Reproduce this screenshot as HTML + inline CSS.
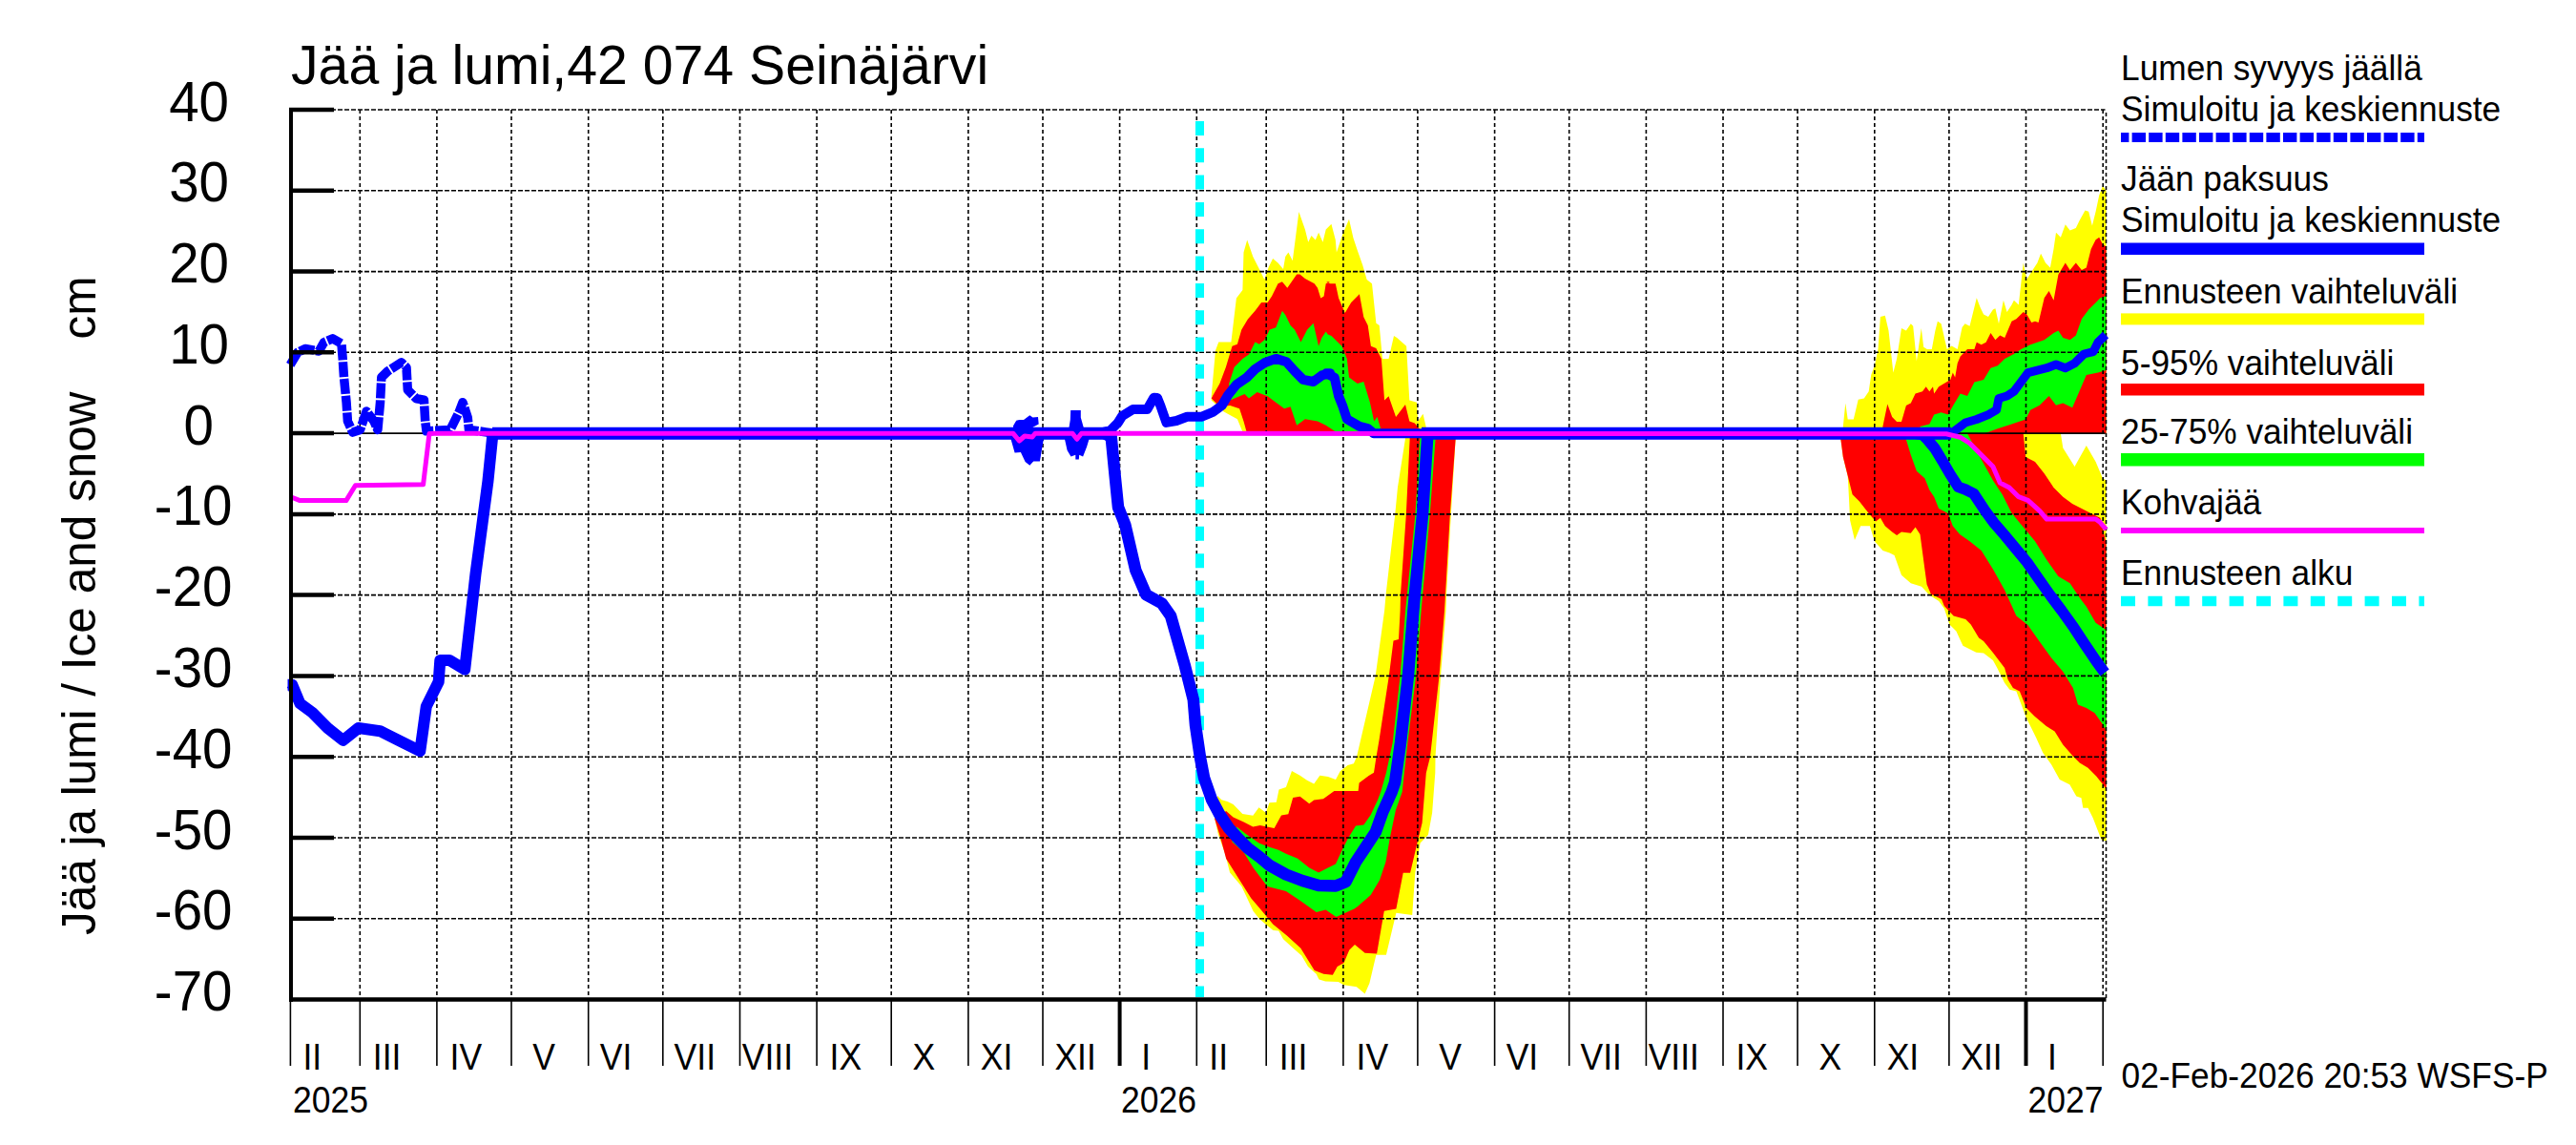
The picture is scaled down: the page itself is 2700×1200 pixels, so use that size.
<!DOCTYPE html><html><head><meta charset="utf-8"><style>html,body{margin:0;padding:0;background:#fff;width:2700px;height:1200px;overflow:hidden}</style></head><body><svg width="2700" height="1200" viewBox="0 0 2700 1200" style="position:absolute;left:0;top:0">
<rect width="2700" height="1200" fill="#fff"/>
<path d="M1273.0,856.0 L1276.0,834.0 L1280.3,838.2 L1286.5,840.0 L1292.6,843.1 L1302.3,852.9 L1313.3,854.7 L1319.5,846.2 L1326.8,851.7 L1330.5,841.3 L1337.8,840.7 L1340.5,827.5 L1347.9,825.0 L1354.0,807.9 L1362.6,812.8 L1369.9,817.7 L1377.2,821.4 L1383.4,812.8 L1391.9,814.0 L1400.0,817.0 L1404.7,808.2 L1412.6,801.9 L1418.9,800.3 L1422.0,793.3 L1441.7,708.4 L1451.1,640.0 L1452.6,623.0 L1462.2,539.4 L1465.0,510.6 L1472.8,460.7 L1473.0,454.3 L1525.6,454.3 L1525.6,460.7 L1520.8,539.4 L1516.0,623.0 L1515.5,640.0 L1510.0,708.4 L1504.5,793.3 L1504.3,810.0 L1501.1,852.0 L1496.9,875.0 L1488.6,883.4 L1483.3,914.8 L1480.2,958.9 L1463.4,956.8 L1452.9,1000.8 L1442.4,1000.8 L1435.4,1030.4 L1430.6,1041.4 L1421.9,1034.2 L1408.5,1032.3 L1402.7,1029.0 L1389.2,1028.5 L1382.5,1026.5 L1379.6,1020.8 L1371.0,1013.1 L1364.2,1001.5 L1354.6,992.9 L1345.0,984.2 L1340.2,975.6 L1334.4,975.1 L1326.7,968.8 L1320.0,963.1 L1313.6,955.0 L1301.4,929.0 L1289.1,914.4 L1284.0,894.5 L1276.7,873.7 L1273.0,856.6Z" fill="#ffff00"/>
<path d="M1273.0,857.8 L1285.2,849.9 L1292.6,856.6 L1303.6,861.5 L1313.3,866.4 L1320.7,865.1 L1335.6,867.9 L1343.0,854.4 L1350.3,853.2 L1355.2,836.1 L1362.6,834.8 L1372.3,842.2 L1377.2,838.5 L1387.0,837.3 L1398.4,828.9 L1423.6,828.9 L1424.6,820.5 L1434.6,812.9 L1440.0,809.8 L1442.4,794.0 L1445.6,775.2 L1455.8,708.4 L1460.5,671.4 L1466.0,669.9 L1467.6,640.0 L1468.0,623.0 L1473.8,539.4 L1477.6,460.7 L1477.6,454.3 L1525.6,454.3 L1525.6,460.7 L1519.8,539.4 L1515.0,623.0 L1514.0,640.0 L1508.5,708.4 L1499.0,793.3 L1494.8,810.0 L1490.6,862.4 L1486.5,879.2 L1478.1,914.8 L1470.7,914.8 L1463.4,952.6 L1450.8,954.7 L1443.1,999.6 L1430.6,998.7 L1420.0,990.0 L1414.2,995.8 L1408.5,1009.2 L1401.7,1013.1 L1396.9,1021.7 L1387.3,1020.8 L1377.7,1016.9 L1363.3,993.8 L1348.8,980.4 L1334.4,968.8 L1320.0,951.5 L1311.2,941.3 L1298.9,921.7 L1285.2,900.0 L1279.1,877.4 L1273.0,857.8Z" fill="#ff0000"/>
<path d="M1291.3,882.2 L1296.2,866.4 L1307.2,874.9 L1319.5,883.5 L1328.0,887.1 L1340.0,890.8 L1347.9,894.8 L1360.1,899.7 L1372.3,909.5 L1382.1,914.4 L1391.9,909.5 L1400.0,905.5 L1406.3,891.8 L1412.6,879.3 L1421.0,865.6 L1429.4,864.6 L1436.7,854.1 L1444.0,838.4 L1447.2,830.0 L1452.9,810.0 L1459.7,778.3 L1467.6,708.4 L1473.1,640.0 L1483.4,539.4 L1488.2,460.7 L1488.2,454.3 L1504.5,454.3 L1504.5,460.7 L1498.7,539.4 L1489.6,640.0 L1484.1,708.4 L1475.4,778.3 L1471.8,810.0 L1469.7,830.0 L1462.9,848.9 L1456.6,879.3 L1452.4,903.4 L1446.1,922.2 L1436.7,938.0 L1423.0,950.0 L1419.4,952.6 L1400.5,961.0 L1389.5,953.5 L1379.7,956.0 L1362.6,943.7 L1347.9,933.9 L1328.3,929.0 L1313.6,909.5 L1303.6,893.2Z" fill="#00ff00"/>
<path d="M1269.7,415.2 L1274.0,367.2 L1277.3,358.5 L1290.4,358.5 L1295.9,312.6 L1302.4,303.9 L1303.5,264.6 L1307.2,251.5 L1313.3,269.0 L1319.9,282.1 L1325.3,293.0 L1329.7,279.9 L1334.1,271.1 L1339.5,275.5 L1345.0,282.1 L1347.2,269.0 L1350.4,264.6 L1354.8,273.3 L1361.4,222.0 L1367.9,240.6 L1371.2,253.7 L1374.5,247.1 L1378.8,251.5 L1382.1,243.8 L1386.5,253.7 L1389.7,240.6 L1395.2,235.1 L1395.5,235.1 L1399.8,251.5 L1400.9,264.6 L1407.5,244.9 L1414.0,229.7 L1418.4,249.3 L1422.8,262.4 L1428.2,277.7 L1432.6,293.0 L1438.0,297.3 L1442.4,338.8 L1445.7,341.0 L1449.0,375.9 L1455.5,375.9 L1461.0,351.9 L1464.2,354.1 L1474.1,362.8 L1477.3,419.6 L1485.0,421.8 L1486.1,441.4 L1491.5,433.8 L1494.8,448.0 L1495.0,454.3 L1302.4,454.3 L1302.4,452.4 L1296.9,439.3 L1282.8,431.6 L1269.7,419.6Z" fill="#ffff00"/>
<path d="M1269.7,417.4 L1278.4,402.1 L1284.9,384.7 L1291.5,362.8 L1296.9,360.7 L1301.3,345.4 L1307.9,334.5 L1315.5,325.7 L1322.1,317.0 L1328.6,317.0 L1333.0,310.4 L1339.5,297.3 L1343.9,295.2 L1349.3,301.7 L1359.2,287.5 L1362.4,287.5 L1367.9,291.9 L1377.7,297.3 L1381.0,301.7 L1384.3,312.6 L1387.6,310.4 L1389.7,297.3 L1394.1,295.2 L1390.0,295.2 L1394.4,297.3 L1399.8,297.3 L1403.1,312.6 L1409.7,327.9 L1416.2,317.0 L1424.9,308.3 L1429.3,332.3 L1433.7,341.0 L1436.9,362.8 L1442.4,365.0 L1447.9,375.9 L1451.1,419.6 L1455.5,415.2 L1463.1,437.1 L1473.0,424.0 L1477.3,441.4 L1482.8,443.6 L1488.3,450.2 L1490.0,454.3 L1306.8,454.3 L1306.8,453.4 L1303.5,441.4 L1299.1,428.3 L1289.3,425.1 L1278.4,426.2Z" fill="#ff0000"/>
<path d="M1288.2,402.1 L1293.7,384.7 L1302.4,375.9 L1309.0,371.6 L1315.5,358.5 L1319.9,360.7 L1325.3,356.3 L1330.8,345.4 L1337.3,343.2 L1343.9,325.7 L1347.2,330.1 L1352.6,341.0 L1357.0,345.4 L1363.5,358.5 L1370.1,345.4 L1376.6,338.8 L1382.1,362.8 L1385.4,354.1 L1389.7,347.6 L1394.1,354.1 L1390.0,349.7 L1395.5,351.9 L1406.4,362.8 L1411.8,375.9 L1414.0,395.6 L1422.8,402.1 L1429.3,400.0 L1435.9,421.8 L1440.2,441.4 L1443.5,437.1 L1446.8,448.0 L1447.0,454.3 L1400.0,452.4 L1389.7,445.8 L1381.0,441.4 L1367.9,439.3 L1359.2,445.8 L1352.6,426.2 L1346.1,428.3 L1337.3,421.8 L1328.6,415.2 L1317.7,410.9 L1309.0,417.4 L1304.6,413.1 L1289.3,419.6Z" fill="#00ff00"/>
<path d="M1929.4,454.3 L2159.9,454.3 L2162.3,469.4 L2174.5,488.9 L2186.8,466.9 L2196.6,484.0 L2203.9,501.2 L2207.6,503.6 L2207.7,881.7 L2202.5,879.9 L2193.7,857.2 L2188.5,846.8 L2183.3,846.8 L2181.5,836.3 L2176.3,834.5 L2169.3,822.3 L2158.8,817.0 L2150.1,801.3 L2141.3,789.1 L2134.3,773.4 L2123.9,752.4 L2113.4,724.5 L2106.4,722.7 L2101.1,715.7 L2093.3,700.0 L2088.9,692.0 L2079.1,684.6 L2071.3,683.8 L2057.4,676.8 L2050.4,661.5 L2043.4,654.5 L2037.8,637.7 L2032.2,630.0 L2022.4,623.8 L2014.0,614.7 L2002.8,611.3 L1993.0,602.7 L1985.6,581.9 L1980.7,579.5 L1973.4,577.0 L1964.8,567.2 L1959.9,551.3 L1950.2,551.3 L1944.0,566.0 L1939.1,545.2 L1937.9,520.7 L1936.7,498.7 L1931.8,479.1 L1929.4,460.8Z" fill="#ffff00"/>
<path d="M1929.4,454.3 L2120.7,454.3 L2123.2,479.1 L2133.0,484.0 L2142.7,496.3 L2152.5,510.9 L2162.3,520.7 L2172.1,528.1 L2181.9,533.0 L2191.7,537.9 L2201.4,542.7 L2207.6,569.6 L2207.7,827.5 L2204.2,822.3 L2197.2,813.6 L2188.5,804.8 L2179.8,799.6 L2172.8,792.6 L2162.3,780.4 L2153.6,766.4 L2144.8,761.1 L2132.6,750.7 L2123.9,741.9 L2116.9,724.5 L2109.9,721.0 L2104.6,712.2 L2101.1,700.0 L2088.9,684.0 L2079.1,672.0 L2074.1,668.5 L2065.7,654.5 L2060.2,648.9 L2047.6,645.4 L2037.8,634.9 L2035.0,628.0 L2023.8,622.4 L2019.6,612.6 L2017.4,596.6 L2012.5,559.9 L2007.6,552.5 L2002.8,558.7 L1993.0,557.4 L1988.1,561.1 L1983.2,557.4 L1975.8,551.3 L1970.9,542.8 L1966.1,546.4 L1958.7,537.9 L1948.9,525.6 L1941.6,518.3 L1931.8,479.1 L1929.4,460.8Z" fill="#ff0000"/>
<path d="M1997.9,454.3 L2062.0,454.3 L2076.7,481.6 L2088.9,503.6 L2098.7,518.3 L2108.5,537.8 L2120.7,552.5 L2133.0,567.2 L2145.2,586.8 L2157.4,603.9 L2169.6,611.2 L2179.4,625.9 L2186.8,635.7 L2196.6,652.8 L2207.6,660.2 L2207.7,766.4 L2204.2,759.4 L2195.5,747.2 L2186.8,741.9 L2178.0,738.4 L2172.8,721.0 L2162.3,704.0 L2150.1,689.5 L2137.8,672.4 L2125.6,655.3 L2113.4,645.5 L2101.2,618.6 L2088.9,596.6 L2076.7,577.0 L2064.5,567.2 L2054.1,559.9 L2046.8,551.3 L2041.9,537.9 L2032.1,533.0 L2027.2,520.7 L2022.3,513.4 L2017.4,501.2 L2008.9,493.8 L2002.8,476.7 L1997.9,460.8Z" fill="#00ff00"/>
<path d="M1931.8,454.3 L1931.8,446.9 L1934.3,422.4 L1936.7,439.5 L1942.8,439.5 L1947.7,418.7 L1953.8,417.5 L1958.7,410.2 L1961.2,393.1 L1964.8,383.3 L1968.5,366.1 L1970.9,331.9 L1975.8,330.7 L1979.5,346.6 L1984.4,390.6 L1988.1,375.9 L1993.0,344.1 L1997.9,346.6 L2002.8,339.2 L2005.2,341.7 L2008.9,378.4 L2013.8,344.1 L2016.2,363.7 L2019.9,366.1 L2024.8,366.1 L2028.4,346.6 L2030.9,336.8 L2034.6,339.2 L2040.7,366.1 L2045.6,362.5 L2051.7,366.1 L2056.6,343.0 L2059.6,339.2 L2064.5,341.7 L2069.4,322.1 L2071.8,312.3 L2075.5,322.1 L2079.1,329.4 L2084.0,331.9 L2088.9,324.5 L2091.4,323.3 L2095.0,339.2 L2099.9,314.8 L2103.6,327.0 L2108.5,319.6 L2110.9,314.8 L2115.8,319.6 L2120.7,275.6 L2124.4,292.7 L2130.5,283.0 L2135.4,275.6 L2139.1,265.8 L2144.0,275.6 L2148.9,280.5 L2152.5,260.9 L2155.0,243.8 L2159.9,248.7 L2164.8,235.3 L2169.6,241.4 L2175.8,238.9 L2179.4,231.6 L2185.5,220.6 L2189.2,221.8 L2192.9,236.5 L2196.6,221.8 L2200.2,204.7 L2203.9,194.9 L2207.6,199.8 L2207.6,454.3Z" fill="#ffff00"/>
<path d="M1973.4,454.3 L1973.4,446.9 L1978.3,423.6 L1983.2,437.1 L1988.1,442.0 L1993.0,442.0 L1997.9,424.9 L2002.8,422.4 L2007.6,412.6 L2015.0,410.2 L2018.7,405.3 L2022.3,410.2 L2026.0,405.3 L2027.2,412.6 L2032.1,405.3 L2044.3,398.0 L2046.8,390.6 L2049.2,395.5 L2051.7,380.8 L2054.7,373.5 L2062.0,366.1 L2069.4,366.1 L2071.8,358.8 L2076.7,361.2 L2081.6,358.8 L2086.5,349.0 L2091.4,356.3 L2096.3,351.5 L2101.2,353.9 L2108.5,336.8 L2113.4,334.3 L2120.7,327.0 L2124.4,329.4 L2129.3,338.0 L2133.0,336.8 L2136.6,338.0 L2142.7,312.3 L2147.6,305.0 L2152.5,314.8 L2157.4,287.8 L2164.8,275.6 L2169.6,283.0 L2175.8,275.6 L2181.9,283.0 L2186.8,280.5 L2191.7,260.9 L2196.6,251.2 L2200.2,248.7 L2203.9,256.0 L2207.6,258.5 L2207.6,454.3Z" fill="#ff0000"/>
<path d="M2012.5,454.3 L2012.5,446.9 L2022.3,444.4 L2027.2,434.6 L2034.6,432.2 L2041.9,434.6 L2047.3,424.8 L2054.7,412.6 L2062.0,415.0 L2069.4,400.4 L2079.1,397.9 L2086.5,385.7 L2093.8,383.3 L2101.2,375.9 L2110.9,371.0 L2118.3,366.1 L2128.1,361.2 L2135.4,358.8 L2142.7,356.3 L2152.5,349.0 L2157.4,346.6 L2162.3,353.9 L2169.6,356.3 L2175.8,351.5 L2181.9,334.3 L2189.2,324.5 L2196.6,317.2 L2201.4,312.3 L2207.6,309.9 L2207.6,388.1 L2199.0,390.6 L2186.8,393.0 L2179.4,410.2 L2172.1,427.3 L2162.3,422.4 L2155.0,424.8 L2147.6,415.0 L2137.8,424.8 L2128.1,429.7 L2123.2,439.5 L2108.5,444.4 L2093.8,449.3 L2080.0,454.3Z" fill="#00ff00"/>
<line x1="305.0" y1="115.0" x2="2206.5" y2="115.0" stroke="#000" stroke-width="1.6" stroke-dasharray="5 2"/><line x1="305.0" y1="199.8" x2="2206.5" y2="199.8" stroke="#000" stroke-width="1.6" stroke-dasharray="5 2"/><line x1="305.0" y1="284.6" x2="2206.5" y2="284.6" stroke="#000" stroke-width="1.6" stroke-dasharray="5 2"/><line x1="305.0" y1="369.3" x2="2206.5" y2="369.3" stroke="#000" stroke-width="1.6" stroke-dasharray="5 2"/><line x1="305.0" y1="454.1" x2="2206.5" y2="454.1" stroke="#000" stroke-width="1.6"/><line x1="305.0" y1="538.9" x2="2206.5" y2="538.9" stroke="#000" stroke-width="1.6" stroke-dasharray="5 2"/><line x1="305.0" y1="623.6" x2="2206.5" y2="623.6" stroke="#000" stroke-width="1.6" stroke-dasharray="5 2"/><line x1="305.0" y1="708.4" x2="2206.5" y2="708.4" stroke="#000" stroke-width="1.6" stroke-dasharray="5 2"/><line x1="305.0" y1="793.2" x2="2206.5" y2="793.2" stroke="#000" stroke-width="1.6" stroke-dasharray="5 2"/><line x1="305.0" y1="878.0" x2="2206.5" y2="878.0" stroke="#000" stroke-width="1.6" stroke-dasharray="5 2"/><line x1="305.0" y1="962.7" x2="2206.5" y2="962.7" stroke="#000" stroke-width="1.6" stroke-dasharray="5 2"/><line x1="305.0" y1="1047.5" x2="2206.5" y2="1047.5" stroke="#000" stroke-width="1.6" stroke-dasharray="5 2"/><line x1="377.3" y1="115" x2="377.3" y2="1047.5" stroke="#000" stroke-width="1.6" stroke-dasharray="4 3"/><line x1="457.9" y1="115" x2="457.9" y2="1047.5" stroke="#000" stroke-width="1.6" stroke-dasharray="4 3"/><line x1="536.0" y1="115" x2="536.0" y2="1047.5" stroke="#000" stroke-width="1.6" stroke-dasharray="4 3"/><line x1="616.7" y1="115" x2="616.7" y2="1047.5" stroke="#000" stroke-width="1.6" stroke-dasharray="4 3"/><line x1="694.8" y1="115" x2="694.8" y2="1047.5" stroke="#000" stroke-width="1.6" stroke-dasharray="4 3"/><line x1="775.5" y1="115" x2="775.5" y2="1047.5" stroke="#000" stroke-width="1.6" stroke-dasharray="4 3"/><line x1="856.1" y1="115" x2="856.1" y2="1047.5" stroke="#000" stroke-width="1.6" stroke-dasharray="4 3"/><line x1="934.2" y1="115" x2="934.2" y2="1047.5" stroke="#000" stroke-width="1.6" stroke-dasharray="4 3"/><line x1="1014.9" y1="115" x2="1014.9" y2="1047.5" stroke="#000" stroke-width="1.6" stroke-dasharray="4 3"/><line x1="1093.0" y1="115" x2="1093.0" y2="1047.5" stroke="#000" stroke-width="1.6" stroke-dasharray="4 3"/><line x1="1173.6" y1="115" x2="1173.6" y2="1047.5" stroke="#000" stroke-width="1.6" stroke-dasharray="4 3"/><line x1="1254.3" y1="115" x2="1254.3" y2="1047.5" stroke="#000" stroke-width="1.6" stroke-dasharray="4 3"/><line x1="1327.2" y1="115" x2="1327.2" y2="1047.5" stroke="#000" stroke-width="1.6" stroke-dasharray="4 3"/><line x1="1407.9" y1="115" x2="1407.9" y2="1047.5" stroke="#000" stroke-width="1.6" stroke-dasharray="4 3"/><line x1="1485.9" y1="115" x2="1485.9" y2="1047.5" stroke="#000" stroke-width="1.6" stroke-dasharray="4 3"/><line x1="1566.6" y1="115" x2="1566.6" y2="1047.5" stroke="#000" stroke-width="1.6" stroke-dasharray="4 3"/><line x1="1644.7" y1="115" x2="1644.7" y2="1047.5" stroke="#000" stroke-width="1.6" stroke-dasharray="4 3"/><line x1="1725.4" y1="115" x2="1725.4" y2="1047.5" stroke="#000" stroke-width="1.6" stroke-dasharray="4 3"/><line x1="1806.0" y1="115" x2="1806.0" y2="1047.5" stroke="#000" stroke-width="1.6" stroke-dasharray="4 3"/><line x1="1884.1" y1="115" x2="1884.1" y2="1047.5" stroke="#000" stroke-width="1.6" stroke-dasharray="4 3"/><line x1="1964.8" y1="115" x2="1964.8" y2="1047.5" stroke="#000" stroke-width="1.6" stroke-dasharray="4 3"/><line x1="2042.9" y1="115" x2="2042.9" y2="1047.5" stroke="#000" stroke-width="1.6" stroke-dasharray="4 3"/><line x1="2123.5" y1="115" x2="2123.5" y2="1047.5" stroke="#000" stroke-width="1.6" stroke-dasharray="4 3"/><line x1="2204.2" y1="115" x2="2204.2" y2="1047.5" stroke="#000" stroke-width="1.6" stroke-dasharray="4 3"/><line x1="2207.5" y1="118" x2="2207.5" y2="1047" stroke="#000" stroke-width="1.6" stroke-dasharray="4 3"/>
<line x1="1257.5" y1="126.9" x2="1257.5" y2="1045" stroke="#00ffff" stroke-width="9" stroke-dasharray="15 13.33"/>
<path d="M1058.9,458.0 L1063.6,474.5 L1069.9,474.1 L1074.6,483.9 L1079.3,487.8 L1083.2,483.5 L1089.9,483.5 L1094.2,458.0Z" fill="#0000ff"/>
<path d="M1062.0,450.0 L1062.0,446.2 L1065.2,440.7 L1068.3,439.9 L1073.0,439.9 L1079.3,435.2 L1082.5,437.5 L1088.0,437.1 L1088.7,444.6 L1082.5,447.7 L1084.0,450.0Z" fill="#0000ff"/>
<path d="M1115.5,458.0 L1118.6,472.1 L1122.5,478.4 L1127.3,476.8 L1127.3,481.5 L1130.8,481.5 L1131.2,476.8 L1135.1,478.4 L1139.1,468.2 L1142.2,458.0Z" fill="#0000ff"/>
<path d="M1120.2,450.0 L1121.8,439.9 L1122.2,430.0 L1132.8,430.0 L1132.8,437.5 L1135.9,448.5Z" fill="#0000ff"/>
<path d="M304.2,382.4 L312.0,369.3 L319.9,365.4 L334.3,368.0 L339.5,358.8 L348.7,354.9 L357.9,360.1 L359.2,375.9 L360.5,395.5 L363.1,421.7 L364.4,441.4 L369.7,453.1 L377.5,450.5 L384.1,430.9 L391.9,441.4 L395.9,450.5 L398.5,421.7 L399.8,395.5 L406.4,389.0 L420.8,379.8 L426.0,385.0 L427.3,408.6 L436.5,417.8 L444.4,419.1 L445.7,441.4 L447.0,451.8 L471.9,450.5 L481.0,432.2 L485.0,421.7 L490.2,437.4 L491.5,450.5 L520.0,454.3 L1150.0,454.3" fill="none" stroke="#0000ff" stroke-width="9.5" stroke-linejoin="round" stroke-dasharray="16 1.8"/>
<path d="M1150.0,454.3 L1164.0,451.0 L1171.8,443.0 L1176.2,436.0 L1187.5,429.0 L1202.4,429.0 L1209.4,416.7 L1213.0,417.0 L1216.4,425.4 L1222.5,442.9 L1233.0,441.0 L1244.3,436.8 L1259.1,436.8 L1271.8,431.6 L1271.8,431.6 L1280.6,425.1 L1287.1,414.1 L1295.9,403.2 L1306.8,395.6 L1315.5,386.9 L1325.3,380.3 L1337.3,375.9 L1348.3,379.2 L1357.0,389.0 L1365.7,397.8 L1376.6,400.0 L1385.4,393.4 L1394.1,391.2 L1390.0,391.2 L1398.7,395.6 L1403.1,415.2 L1407.5,426.2 L1411.8,439.3 L1424.9,446.9 L1433.7,449.1 L1440.0,454.3 L1500.0,454.3" fill="none" stroke="#0000ff" stroke-width="10" stroke-linejoin="round"/>
<path d="M2045.0,454.3 L2051.7,449.3 L2060.0,443.0 L2071.8,439.5 L2084.0,434.6 L2092.6,429.7 L2095.0,417.5 L2103.6,415.0 L2110.9,410.2 L2118.3,400.4 L2125.6,390.6 L2135.4,388.1 L2145.2,385.7 L2155.0,382.0 L2164.8,385.7 L2174.5,380.8 L2184.3,371.0 L2194.1,368.6 L2199.0,358.8 L2207.0,351.0" fill="none" stroke="#0000ff" stroke-width="9" stroke-linejoin="round"/>
<line x1="516" y1="454.3" x2="1160" y2="454.3" stroke="#0000ff" stroke-width="13"/>
<line x1="1490" y1="454.3" x2="2045" y2="454.3" stroke="#0000ff" stroke-width="13"/>
<path d="M301.5,717.8 L306.3,717.8 L314.4,737.2 L327.3,746.8 L343.4,763.0 L359.6,775.9 L375.7,763.0 L398.4,766.2 L417.7,775.9 L440.3,787.2 L446.8,740.4 L459.7,714.5 L461.3,691.9 L471.0,691.9 L487.2,701.6 L498.5,601.5 L511.4,504.6 L516.3,456.1" fill="none" stroke="#0000ff" stroke-width="12" stroke-linejoin="round"/>
<path d="M1158.0,454.3 L1164.7,458.0 L1168.3,495.0 L1172.0,531.6 L1179.3,550.0 L1190.3,597.6 L1201.3,623.3 L1217.8,632.4 L1227.0,645.3 L1241.6,696.6 L1250.8,733.3 L1253.0,760.0 L1258.0,794.0 L1262.0,815.0 L1270.0,838.0 L1278.0,853.0 L1288.0,868.0 L1298.0,879.0 L1308.0,889.0 L1320.0,898.0 L1330.7,907.0 L1347.9,916.5 L1365.0,923.0 L1382.1,928.0 L1400.0,928.5 L1410.5,924.3 L1421.0,903.4 L1431.4,887.7 L1441.9,871.9 L1449.3,851.0 L1458.7,830.0 L1462.1,820.0 L1468.0,778.3 L1475.9,708.4 L1481.4,640.0 L1482.9,623.0 L1491.0,539.4 L1496.0,460.7 L1496.5,454.3" fill="none" stroke="#0000ff" stroke-width="12.5" stroke-linejoin="round"/>
<path d="M2008.0,454.3 L2015.0,455.5 L2020.5,461.0 L2028.0,470.0 L2036.5,484.0 L2044.0,497.0 L2052.6,510.3 L2060.0,513.0 L2068.7,517.3 L2080.7,535.4 L2090.0,548.0 L2100.8,560.5 L2112.0,574.0 L2124.9,589.6 L2137.0,607.0 L2149.0,624.0 L2161.0,640.0 L2173.1,656.9 L2185.0,675.0 L2197.2,693.0 L2206.0,705.0" fill="none" stroke="#0000ff" stroke-width="11.5" stroke-linejoin="round"/>
<path d="M304.7,520.7 L314.4,524.6 L362.8,524.6 L372.5,508.8 L443.6,507.8 L450.0,454.5 L455.0,454.3 L1062.0,454.3 L1068.3,462.0 L1074.0,457.0 L1082.0,458.0 L1085.0,454.3 L1124.1,454.3 L1128.8,460.3 L1133.5,454.3 L2040.0,454.7 L2054.7,458.3 L2064.5,464.5 L2076.7,476.7 L2088.9,488.9 L2096.3,506.0 L2106.0,510.9 L2115.8,520.7 L2125.6,524.4 L2137.8,535.4 L2145.2,544.0 L2196.6,544.0 L2201.4,547.6 L2207.6,555.0" fill="none" stroke="#ff00ff" stroke-width="5" stroke-linejoin="round"/>
<line x1="305.0" y1="113" x2="305.0" y2="1050" stroke="#000" stroke-width="4"/>
<line x1="303" y1="1047.5" x2="2207.5" y2="1047.5" stroke="#000" stroke-width="4.5"/>
<line x1="303" y1="115.0" x2="350" y2="115.0" stroke="#000" stroke-width="4.5"/>
<line x1="303" y1="199.8" x2="350" y2="199.8" stroke="#000" stroke-width="4.5"/>
<line x1="303" y1="284.6" x2="350" y2="284.6" stroke="#000" stroke-width="4.5"/>
<line x1="303" y1="369.3" x2="350" y2="369.3" stroke="#000" stroke-width="4.5"/>
<line x1="303" y1="454.1" x2="350" y2="454.1" stroke="#000" stroke-width="4.5"/>
<line x1="303" y1="538.9" x2="350" y2="538.9" stroke="#000" stroke-width="4.5"/>
<line x1="303" y1="623.6" x2="350" y2="623.6" stroke="#000" stroke-width="4.5"/>
<line x1="303" y1="708.4" x2="350" y2="708.4" stroke="#000" stroke-width="4.5"/>
<line x1="303" y1="793.2" x2="350" y2="793.2" stroke="#000" stroke-width="4.5"/>
<line x1="303" y1="878.0" x2="350" y2="878.0" stroke="#000" stroke-width="4.5"/>
<line x1="303" y1="962.7" x2="350" y2="962.7" stroke="#000" stroke-width="4.5"/>
<line x1="304.4" y1="1047.5" x2="304.4" y2="1117" stroke="#000" stroke-width="1.6"/>
<line x1="377.3" y1="1047.5" x2="377.3" y2="1117" stroke="#000" stroke-width="1.6"/>
<line x1="457.9" y1="1047.5" x2="457.9" y2="1117" stroke="#000" stroke-width="1.6"/>
<line x1="536.0" y1="1047.5" x2="536.0" y2="1117" stroke="#000" stroke-width="1.6"/>
<line x1="616.7" y1="1047.5" x2="616.7" y2="1117" stroke="#000" stroke-width="1.6"/>
<line x1="694.8" y1="1047.5" x2="694.8" y2="1117" stroke="#000" stroke-width="1.6"/>
<line x1="775.5" y1="1047.5" x2="775.5" y2="1117" stroke="#000" stroke-width="1.6"/>
<line x1="856.1" y1="1047.5" x2="856.1" y2="1117" stroke="#000" stroke-width="1.6"/>
<line x1="934.2" y1="1047.5" x2="934.2" y2="1117" stroke="#000" stroke-width="1.6"/>
<line x1="1014.9" y1="1047.5" x2="1014.9" y2="1117" stroke="#000" stroke-width="1.6"/>
<line x1="1093.0" y1="1047.5" x2="1093.0" y2="1117" stroke="#000" stroke-width="1.6"/>
<line x1="1173.6" y1="1047.5" x2="1173.6" y2="1117" stroke="#000" stroke-width="4"/>
<line x1="1254.3" y1="1047.5" x2="1254.3" y2="1117" stroke="#000" stroke-width="1.6"/>
<line x1="1327.2" y1="1047.5" x2="1327.2" y2="1117" stroke="#000" stroke-width="1.6"/>
<line x1="1407.9" y1="1047.5" x2="1407.9" y2="1117" stroke="#000" stroke-width="1.6"/>
<line x1="1485.9" y1="1047.5" x2="1485.9" y2="1117" stroke="#000" stroke-width="1.6"/>
<line x1="1566.6" y1="1047.5" x2="1566.6" y2="1117" stroke="#000" stroke-width="1.6"/>
<line x1="1644.7" y1="1047.5" x2="1644.7" y2="1117" stroke="#000" stroke-width="1.6"/>
<line x1="1725.4" y1="1047.5" x2="1725.4" y2="1117" stroke="#000" stroke-width="1.6"/>
<line x1="1806.0" y1="1047.5" x2="1806.0" y2="1117" stroke="#000" stroke-width="1.6"/>
<line x1="1884.1" y1="1047.5" x2="1884.1" y2="1117" stroke="#000" stroke-width="1.6"/>
<line x1="1964.8" y1="1047.5" x2="1964.8" y2="1117" stroke="#000" stroke-width="1.6"/>
<line x1="2042.9" y1="1047.5" x2="2042.9" y2="1117" stroke="#000" stroke-width="1.6"/>
<line x1="2123.5" y1="1047.5" x2="2123.5" y2="1117" stroke="#000" stroke-width="4"/>
<line x1="2204.2" y1="1047.5" x2="2204.2" y2="1117" stroke="#000" stroke-width="1.6"/>
<text transform="translate(327.3 1121.0) scale(1 1.08)" font-size="35.5" text-anchor="middle" font-family="Liberation Sans, sans-serif">II</text>
<text transform="translate(405.6 1121.0) scale(1 1.08)" font-size="35.5" text-anchor="middle" font-family="Liberation Sans, sans-serif">III</text>
<text transform="translate(488.3 1121.0) scale(1 1.08)" font-size="35.5" text-anchor="middle" font-family="Liberation Sans, sans-serif">IV</text>
<text transform="translate(570.1 1121.0) scale(1 1.08)" font-size="35.5" text-anchor="middle" font-family="Liberation Sans, sans-serif">V</text>
<text transform="translate(645.5 1121.0) scale(1 1.08)" font-size="35.5" text-anchor="middle" font-family="Liberation Sans, sans-serif">VI</text>
<text transform="translate(728.3 1121.0) scale(1 1.08)" font-size="35.5" text-anchor="middle" font-family="Liberation Sans, sans-serif">VII</text>
<text transform="translate(804.4 1121.0) scale(1 1.08)" font-size="35.5" text-anchor="middle" font-family="Liberation Sans, sans-serif">VIII</text>
<text transform="translate(886.3 1121.0) scale(1 1.08)" font-size="35.5" text-anchor="middle" font-family="Liberation Sans, sans-serif">IX</text>
<text transform="translate(968.4 1121.0) scale(1 1.08)" font-size="35.5" text-anchor="middle" font-family="Liberation Sans, sans-serif">X</text>
<text transform="translate(1044.5 1121.0) scale(1 1.08)" font-size="35.5" text-anchor="middle" font-family="Liberation Sans, sans-serif">XI</text>
<text transform="translate(1127.1 1121.0) scale(1 1.08)" font-size="35.5" text-anchor="middle" font-family="Liberation Sans, sans-serif">XII</text>
<text transform="translate(1201.1 1121.0) scale(1 1.08)" font-size="35.5" text-anchor="middle" font-family="Liberation Sans, sans-serif">I</text>
<text transform="translate(1277.2 1121.0) scale(1 1.08)" font-size="35.5" text-anchor="middle" font-family="Liberation Sans, sans-serif">II</text>
<text transform="translate(1355.5 1121.0) scale(1 1.08)" font-size="35.5" text-anchor="middle" font-family="Liberation Sans, sans-serif">III</text>
<text transform="translate(1438.3 1121.0) scale(1 1.08)" font-size="35.5" text-anchor="middle" font-family="Liberation Sans, sans-serif">IV</text>
<text transform="translate(1520.0 1121.0) scale(1 1.08)" font-size="35.5" text-anchor="middle" font-family="Liberation Sans, sans-serif">V</text>
<text transform="translate(1595.4 1121.0) scale(1 1.08)" font-size="35.5" text-anchor="middle" font-family="Liberation Sans, sans-serif">VI</text>
<text transform="translate(1678.2 1121.0) scale(1 1.08)" font-size="35.5" text-anchor="middle" font-family="Liberation Sans, sans-serif">VII</text>
<text transform="translate(1754.3 1121.0) scale(1 1.08)" font-size="35.5" text-anchor="middle" font-family="Liberation Sans, sans-serif">VIII</text>
<text transform="translate(1836.2 1121.0) scale(1 1.08)" font-size="35.5" text-anchor="middle" font-family="Liberation Sans, sans-serif">IX</text>
<text transform="translate(1918.3 1121.0) scale(1 1.08)" font-size="35.5" text-anchor="middle" font-family="Liberation Sans, sans-serif">X</text>
<text transform="translate(1994.4 1121.0) scale(1 1.08)" font-size="35.5" text-anchor="middle" font-family="Liberation Sans, sans-serif">XI</text>
<text transform="translate(2077.0 1121.0) scale(1 1.08)" font-size="35.5" text-anchor="middle" font-family="Liberation Sans, sans-serif">XII</text>
<text transform="translate(2151.0 1121.0) scale(1 1.08)" font-size="35.5" text-anchor="middle" font-family="Liberation Sans, sans-serif">I</text>
<text transform="translate(307.0 1166.0) scale(1 1.08)" font-size="35.5" font-family="Liberation Sans, sans-serif">2025</text>
<text transform="translate(1175.1 1166.0) scale(1 1.08)" font-size="35.5" font-family="Liberation Sans, sans-serif">2026</text>
<text transform="translate(2125.5 1166.0) scale(1 1.08)" font-size="35.5" font-family="Liberation Sans, sans-serif">2027</text>
<text transform="translate(240.0 126.5) scale(1 1.04)" font-size="56.5" text-anchor="end" font-family="Liberation Sans, sans-serif">40</text>
<text transform="translate(240.0 211.3) scale(1 1.04)" font-size="56.5" text-anchor="end" font-family="Liberation Sans, sans-serif">30</text>
<text transform="translate(240.0 296.1) scale(1 1.04)" font-size="56.5" text-anchor="end" font-family="Liberation Sans, sans-serif">20</text>
<text transform="translate(240.0 380.8) scale(1 1.04)" font-size="56.5" text-anchor="end" font-family="Liberation Sans, sans-serif">10</text>
<text transform="translate(224.0 465.6) scale(1 1.04)" font-size="56.5" text-anchor="end" font-family="Liberation Sans, sans-serif">0</text>
<text transform="translate(243.5 550.4) scale(1 1.04)" font-size="56.5" text-anchor="end" font-family="Liberation Sans, sans-serif">-10</text>
<text transform="translate(243.5 635.1) scale(1 1.04)" font-size="56.5" text-anchor="end" font-family="Liberation Sans, sans-serif">-20</text>
<text transform="translate(243.5 719.9) scale(1 1.04)" font-size="56.5" text-anchor="end" font-family="Liberation Sans, sans-serif">-30</text>
<text transform="translate(243.5 804.7) scale(1 1.04)" font-size="56.5" text-anchor="end" font-family="Liberation Sans, sans-serif">-40</text>
<text transform="translate(243.5 889.5) scale(1 1.04)" font-size="56.5" text-anchor="end" font-family="Liberation Sans, sans-serif">-50</text>
<text transform="translate(243.5 974.2) scale(1 1.04)" font-size="56.5" text-anchor="end" font-family="Liberation Sans, sans-serif">-60</text>
<text transform="translate(243.5 1059.0) scale(1 1.04)" font-size="56.5" text-anchor="end" font-family="Liberation Sans, sans-serif">-70</text>
<text x="305" y="87.8" font-size="57.2" font-family="Liberation Sans, sans-serif">Jää ja lumi,42 074 Seinäjärvi</text>
<text transform="translate(99.5 980) rotate(-90)" x="0" y="0" font-size="49.5" font-family="Liberation Sans, sans-serif" xml:space="preserve">Jää ja lumi / Ice and snow    cm</text>
<text transform="translate(2223.0 84.0) scale(1 1.07)" font-size="35.3" font-family="Liberation Sans, sans-serif">Lumen syvyys jäällä</text>
<text transform="translate(2223.0 126.5) scale(1 1.07)" font-size="35.3" font-family="Liberation Sans, sans-serif">Simuloitu ja keskiennuste</text>
<text transform="translate(2223.0 200.0) scale(1 1.07)" font-size="35.3" font-family="Liberation Sans, sans-serif">Jään paksuus</text>
<text transform="translate(2223.0 243.0) scale(1 1.07)" font-size="35.3" font-family="Liberation Sans, sans-serif">Simuloitu ja keskiennuste</text>
<text transform="translate(2223.0 317.8) scale(1 1.07)" font-size="35.3" font-family="Liberation Sans, sans-serif">Ennusteen vaihteluväli</text>
<text transform="translate(2223.0 392.7) scale(1 1.07)" font-size="35.3" font-family="Liberation Sans, sans-serif">5-95% vaihteluväli</text>
<text transform="translate(2223.0 465.0) scale(1 1.07)" font-size="35.3" font-family="Liberation Sans, sans-serif">25-75% vaihteluväli</text>
<text transform="translate(2223.0 539.0) scale(1 1.07)" font-size="35.3" font-family="Liberation Sans, sans-serif">Kohvajää</text>
<text transform="translate(2223.0 613.0) scale(1 1.07)" font-size="35.3" font-family="Liberation Sans, sans-serif">Ennusteen alku</text>
<line x1="2223" y1="144" x2="2541" y2="144" stroke="#0000ff" stroke-width="10" stroke-dasharray="14.4 3.2" stroke-dashoffset="6"/>
<rect x="2223" y="254.5" width="318" height="12.5" fill="#0000ff"/>
<rect x="2223" y="328.4" width="318" height="12" fill="#ffff00"/>
<rect x="2223" y="402" width="318" height="12.5" fill="#ff0000"/>
<rect x="2223" y="475" width="318" height="13.5" fill="#00ff00"/>
<rect x="2223" y="553" width="318" height="6" fill="#ff00ff"/>
<line x1="2223" y1="630" x2="2541" y2="630" stroke="#00ffff" stroke-width="10.5" stroke-dasharray="15 13.4"/>
<text transform="translate(2223.5 1140.0) scale(1 1.07)" font-size="35.3" font-family="Liberation Sans, sans-serif">02-Feb-2026 20:53 WSFS-P</text>
</svg></body></html>
